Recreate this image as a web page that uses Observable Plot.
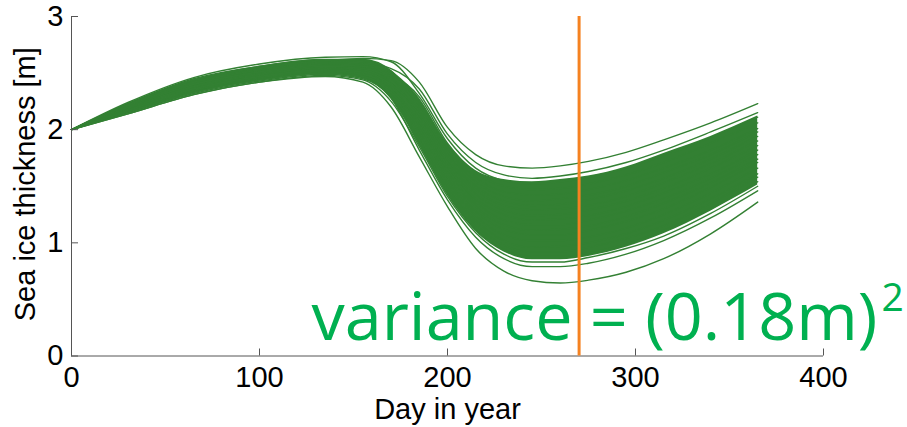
<!DOCTYPE html>
<html><head><meta charset="utf-8">
<script src="https://cdn.jsdelivr.net/npm/d3@7"></script>
<script src="https://cdn.jsdelivr.net/npm/@observablehq/plot@0.6"></script>
<style>body{margin:0;background:#fff}</style>
</head><body><div id="chart"></div>
<script>
const days = [0,30,65,100,135,155,170,185,200,215,230,245,260,275,295,315,340,365];
const memberA = [2.00,2.16,2.34,2.45,2.51,2.48,2.28,1.82,1.38,1.05,0.86,0.79,0.79,0.82,0.90,1.02,1.22,1.46];
const memberB = [2.00,2.14,2.31,2.42,2.48,2.44,2.25,1.85,1.41,1.09,0.90,0.83,0.83,0.87,0.95,1.06,1.26,1.50];
const memberC = [2.00,2.18,2.37,2.48,2.54,2.52,2.33,1.88,1.44,1.12,0.94,0.88,0.88,0.91,0.99,1.11,1.30,1.54];
const memberD = [2.00,2.15,2.33,2.44,2.50,2.46,2.29,1.91,1.48,1.16,0.98,0.92,0.92,0.96,1.04,1.15,1.35,1.58];
const memberE = [2.00,2.19,2.39,2.50,2.56,2.55,2.37,1.94,1.51,1.20,1.02,0.96,0.97,1.00,1.08,1.20,1.39,1.61];
const memberF = [2.00,2.15,2.32,2.43,2.49,2.45,2.30,1.98,1.55,1.24,1.07,1.02,1.02,1.05,1.13,1.25,1.44,1.66];
const memberG = [2.00,2.20,2.40,2.52,2.58,2.57,2.41,2.01,1.58,1.28,1.12,1.07,1.07,1.11,1.19,1.30,1.49,1.71];
const memberH = [2.00,2.17,2.35,2.46,2.52,2.49,2.36,2.04,1.62,1.32,1.16,1.11,1.12,1.15,1.23,1.35,1.53,1.74];
const memberI = [2.00,2.16,2.33,2.44,2.50,2.47,2.35,2.07,1.65,1.36,1.20,1.16,1.16,1.20,1.28,1.39,1.57,1.78];
const memberJ = [2.00,2.22,2.43,2.54,2.60,2.60,2.47,2.10,1.68,1.39,1.25,1.20,1.21,1.24,1.32,1.44,1.61,1.82];
const memberK = [2.00,2.18,2.37,2.49,2.55,2.53,2.41,2.13,1.71,1.43,1.29,1.24,1.25,1.29,1.37,1.48,1.66,1.86];
const memberL = [2.00,2.17,2.36,2.47,2.53,2.51,2.40,2.16,1.74,1.47,1.33,1.29,1.30,1.33,1.41,1.53,1.70,1.90];
const memberM = [2.00,2.23,2.45,2.56,2.62,2.62,2.52,2.19,1.78,1.50,1.37,1.33,1.34,1.38,1.46,1.57,1.74,1.94];
const memberN = [2.00,2.19,2.38,2.50,2.56,2.54,2.45,2.22,1.81,1.54,1.41,1.37,1.39,1.42,1.50,1.62,1.78,1.98];
const memberO = [2.00,2.21,2.41,2.53,2.59,2.58,2.50,2.25,1.84,1.58,1.45,1.42,1.43,1.47,1.55,1.66,1.82,2.01];
const memberP = [2.00,2.20,2.40,2.51,2.57,2.56,2.49,2.29,1.88,1.62,1.50,1.47,1.48,1.52,1.60,1.71,1.88,2.06];
const memberQ = [2.00,2.24,2.46,2.58,2.64,2.645,2.60,2.32,1.92,1.66,1.55,1.52,1.54,1.58,1.66,1.77,1.93,2.11];
const memberR = [2.00,2.21,2.42,2.54,2.60,2.59,2.54,2.36,1.96,1.71,1.60,1.57,1.59,1.63,1.71,1.82,1.98,2.15];
const memberS = [2.00,2.22,2.44,2.55,2.61,2.63,2.61,2.42,2.02,1.78,1.68,1.66,1.68,1.72,1.80,1.91,2.06,2.23];
const memberZ = [2.00,2.14,2.31,2.42,2.47,2.42,2.20,1.76,1.32,0.95,0.75,0.665,0.645,0.67,0.74,0.86,1.08,1.36];
const coreLow  = [2.00,2.15,2.32,2.43,2.49,2.45,2.27,1.86,1.42,1.10,0.92,0.85,0.85,0.88,0.96,1.08,1.28,1.51];
const coreHigh = [2.00,2.23,2.44,2.56,2.62,2.62,2.52,2.28,1.88,1.64,1.56,1.54,1.56,1.59,1.67,1.79,1.94,2.12];
const xTicks = [0,100,200,300,400];
const yTicks = [0,1,2,3];
const markerDay = [270];
const xLabel = ["Day in year"];
const yLabel = ["Sea ice thickness [m]"];
const annotation = ["variance = (0.18m)"];
const annotationSup = ["2"];

const members = [memberA,memberB,memberC,memberD,memberE,memberF,memberG,memberH,memberI,memberJ,
  memberK,memberL,memberM,memberN,memberO,memberP,memberQ,memberR,memberS,memberZ];
const rows = members.flatMap((vals, m) => vals.map((v, i) => ({day: days[i], thickness: v, member: m})));
const core = days.map((d, i) => ({day: d, lo: coreLow[i], hi: coreHigh[i]}));

const green = "#338033";
const chart = Plot.plot({
  width: 907, height: 427,
  marginLeft: 71, marginRight: 84, marginTop: 16, marginBottom: 71.5,
  x: {domain: [0, 400]},
  y: {domain: [0, 3]},
  style: {fontFamily: "'Liberation Sans', Arial, sans-serif", fontSize: "29px", color: "#000", background: "#fff", overflow: "visible"},
  marks: [
    Plot.areaY(core, {x: "day", y1: "lo", y2: "hi", fill: green, curve: "monotone-x"}),
    Plot.line(rows, {x: "day", y: "thickness", z: "member", stroke: green, strokeWidth: 1.4, curve: "monotone-x"}),
    Plot.ruleX([0], {stroke: "#555"}),
    Plot.ruleY([0], {stroke: "#555"}),
    Plot.axisX(xTicks, {tickSize: -7, tickPadding: 17.5, tickFormat: d3.format("d"), label: null, stroke: "#555", fill: "#000"}),
    Plot.axisY(yTicks, {tickSize: -7, tickPadding: 15, tickFormat: d3.format("d"), label: null, stroke: "#555", fill: "#000"}),
    Plot.text(xLabel, {text: d => d, frameAnchor: "bottom", lineAnchor: "bottom", dy: 62.5, fill: "#000"}),
    Plot.text(yLabel, {text: d => d, frameAnchor: "left", textAnchor: "middle", lineAnchor: "bottom", rotate: -90, dx: -36.5, dy: -2, fill: "#000"}),
    Plot.ruleX(markerDay, {stroke: "#f58220", strokeWidth: 3}),
    Plot.text(annotation, {text: d => d, frameAnchor: "bottom-left", textAnchor: "start", lineAnchor: "bottom",
      dx: 240, dy: -16.5, fill: "#00b050", fontSize: 66.5, fontFamily: "'Open Sans', sans-serif"}),
    Plot.text(annotationSup, {text: d => d, frameAnchor: "bottom-right", textAnchor: "start", lineAnchor: "bottom",
      dx: 58, dy: -45.5, fill: "#00b050", fontSize: 39, fontFamily: "'Open Sans', sans-serif"})
  ]
});
document.getElementById("chart").append(chart);
</script>
</body></html>
